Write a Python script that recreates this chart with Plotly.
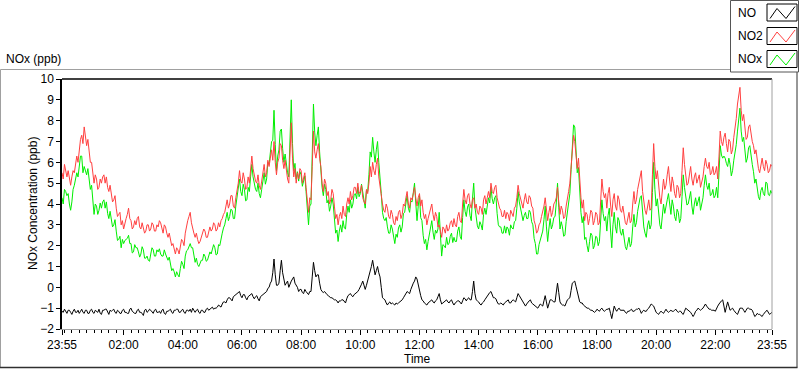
import pandas as pd
import plotly.graph_objects as go

# ------------- data: values read every 5 min (23:55 -> 23:55 next day) -------------
# plus the in-between (2.5-min) values read from the noise envelope
start_time = "2020-01-01 23:55"

no2 = [
    5.5, 5.9, 5.3, 5.2, 5.3, 5.5, 6.3, 6.6, 7.3, 7.7, 6.8, 6.4,
    6.0, 5.0, 5.2, 4.8, 5.0, 5.4, 5.3, 4.6, 4.4, 4.2, 3.8, 3.5,
    3.0, 2.8, 3.3, 3.8, 3.2, 2.9, 3.0, 3.4, 2.8, 2.9, 2.7, 3.0,
    2.8, 3.0, 2.7, 2.9, 3.1, 2.6, 2.9, 2.4, 2.2, 2.1, 1.6, 1.8,
    1.9, 2.2, 2.6, 3.2, 3.6, 2.8, 2.4, 2.3, 2.2, 2.5, 2.7, 2.4,
    2.9, 2.8, 3.0, 2.8, 2.9, 3.3, 3.6, 4.2, 4.0, 4.4, 3.8, 4.6,
    5.6, 5.0, 5.2, 4.8, 5.0, 6.3, 5.4, 5.0, 4.9, 5.1, 5.9, 5.5,
    5.8, 6.6, 7.0, 5.4, 6.2, 6.8, 5.7, 5.6, 5.0, 7.9, 5.3, 5.0,
    5.2, 5.6, 5.3, 4.8, 3.6, 4.2, 7.5, 6.2, 6.9, 5.8, 4.6, 5.0,
    4.6, 4.2, 4.5, 3.3, 3.0, 3.6, 3.9, 3.4, 4.3, 4.6, 4.4, 4.8,
    5.0, 4.6, 4.3, 4.0, 4.5, 5.8, 6.0, 5.4, 6.2, 4.8, 4.0, 3.6,
    3.8, 3.3, 3.5, 3.0, 3.2, 3.7, 3.5, 3.9, 4.6, 3.8, 4.2, 4.8,
    3.9, 4.5, 4.2, 3.3, 3.0, 3.5, 4.0, 3.2, 3.4, 3.0, 2.4, 2.8,
    3.0, 2.8, 3.2, 3.3, 2.9, 3.6, 3.1, 4.7, 4.0, 4.5, 3.8, 4.3,
    4.0, 3.5, 3.8, 4.2, 4.0, 4.6, 5.0, 4.5, 4.9, 4.0, 3.7, 3.4,
    3.3, 3.5, 3.7, 3.4, 3.9, 4.9, 4.3, 3.8, 4.5, 4.0, 4.3, 3.8,
    3.0, 2.7, 3.1, 3.6, 4.3, 3.2, 3.9, 3.6, 4.1, 4.8, 3.5, 3.7,
    3.4, 4.2, 5.0, 6.8, 7.0, 5.7, 5.0, 3.8, 3.2, 3.5, 3.3, 3.6,
    3.2, 3.5, 3.1, 5.2, 4.3, 3.8, 4.8, 3.4, 4.5, 3.7, 4.2, 3.6,
    3.4, 3.0, 3.6, 3.2, 4.6, 4.2, 5.0, 5.6, 4.0, 3.5, 4.2, 3.8,
    6.9, 5.2, 4.8, 4.0, 5.2, 4.9, 5.8, 4.6, 5.0, 4.3, 4.8, 4.5,
    6.7, 5.3, 5.0, 5.8, 4.9, 5.5, 5.2, 4.8, 5.3, 6.2, 5.7, 5.4,
    5.8, 5.5, 5.2, 7.5, 6.8, 7.4, 6.5, 7.0, 6.6, 7.6, 8.8, 9.6,
    8.0, 7.6, 7.2, 7.8, 7.0, 6.4, 6.0, 5.5, 6.2, 5.6, 5.9, 5.6,
    5.8,
]
no2_mid = [
    5.2, 5.6, 5.6, 4.9, 5.6, 5.9, 6.0, 7.1, 6.9, 7.2, 7.1, 6.0,
    5.3, 5.4, 4.7, 5.2, 5.3, 5.0, 4.8, 4.9, 4.1, 4.4, 3.4, 3.6,
    3.2, 3.1, 3.5, 3.3, 2.8, 3.2, 3.3, 2.9, 3.1, 2.6, 3.0, 2.7,
    3.1, 2.7, 3.0, 3.2, 2.8, 3.0, 2.6, 2.6, 2.0, 1.9, 1.9, 1.6,
    2.3, 2.0, 3.0, 3.4, 3.1, 2.6, 2.6, 2.1, 2.4, 2.8, 2.4, 2.7,
    2.7, 3.1, 2.7, 3.1, 3.2, 3.5, 3.9, 3.8, 4.4, 3.9, 4.3, 5.0,
    5.1, 5.5, 4.7, 5.3, 5.7, 5.7, 5.1, 5.4, 4.7, 5.5, 5.3, 6.1,
    6.2, 6.1, 6.0, 6.0, 6.9, 6.1, 6.1, 5.2, 6.3, 6.2, 5.7, 5.5,
    5.7, 5.0, 5.5, 4.2, 4.3, 5.8, 6.5, 6.6, 6.2, 5.0, 5.2, 4.4,
    4.0, 4.7, 3.9, 3.5, 3.4, 3.3, 3.5, 4.0, 4.0, 4.2, 4.8, 4.5,
    4.5, 4.9, 4.1, 4.7, 5.0, 5.3, 5.6, 5.9, 5.3, 4.4, 3.7, 4.0,
    3.4, 3.7, 3.1, 3.4, 3.6, 3.3, 4.0, 4.3, 4.0, 4.3, 4.5, 4.3,
    4.3, 3.9, 3.6, 3.5, 3.3, 3.8, 3.5, 3.6, 2.9, 2.7, 2.9, 2.6,
    2.7, 3.1, 2.9, 3.0, 3.4, 3.2, 4.0, 4.2, 4.4, 4.0, 4.2, 3.8,
    3.6, 3.9, 3.5, 4.4, 4.3, 4.3, 4.6, 4.8, 4.3, 3.8, 3.4, 3.7,
    3.6, 3.2, 3.5, 3.8, 4.3, 4.5, 4.0, 4.2, 4.1, 4.4, 3.9, 3.2,
    2.6, 3.0, 3.4, 3.9, 3.6, 3.6, 3.4, 4.0, 4.3, 4.1, 3.9, 3.3,
    3.9, 4.6, 5.8, 7.3, 6.2, 6.2, 4.3, 4.2, 3.6, 3.0, 3.7, 3.0,
    3.6, 3.0, 4.4, 4.6, 4.5, 4.5, 4.0, 4.2, 3.9, 4.4, 3.7, 3.9,
    3.1, 3.4, 3.1, 4.0, 4.0, 4.7, 5.4, 4.6, 3.7, 4.0, 3.7, 5.4,
    5.8, 5.6, 4.3, 4.7, 4.7, 5.4, 5.1, 5.3, 4.5, 4.9, 4.3, 5.6,
    5.9, 4.9, 5.5, 5.2, 5.3, 5.0, 5.4, 5.1, 5.8, 5.8, 6.0, 5.5,
    5.4, 5.8, 6.3, 7.0, 7.2, 6.9, 7.1, 6.4, 7.2, 8.1, 9.3, 8.5,
    8.3, 7.1, 7.7, 7.3, 6.8, 6.6, 5.7, 6.0, 5.8, 6.1, 5.5, 5.9,
]

nox = [
    4.3, 4.7, 4.4, 4.0, 4.1, 4.9, 5.5, 6.0, 6.3, 5.8, 5.4, 5.0,
    4.9, 3.5, 3.9, 3.7, 3.8, 4.2, 4.1, 3.3, 3.2, 3.0, 2.7, 2.3,
    1.9, 2.1, 2.3, 2.5, 2.1, 1.7, 1.9, 1.7, 1.6, 1.8, 1.4, 1.3,
    1.6, 1.8, 1.5, 1.7, 1.6, 1.5, 1.6, 1.3, 1.0, 0.9, 0.5, 0.6,
    0.9, 1.1, 1.5, 1.8, 2.1, 1.9, 1.2, 1.1, 1.2, 1.3, 1.5, 1.3,
    1.7, 1.8, 1.9, 1.6, 2.0, 2.6, 3.0, 3.6, 3.4, 3.7, 3.3, 4.3,
    5.2, 4.4, 4.7, 4.2, 4.6, 5.9, 5.0, 4.6, 4.5, 4.7, 5.5, 5.2,
    5.9, 7.0, 8.5, 5.6, 6.6, 7.6, 6.0, 5.9, 5.3, 9.0, 5.6, 5.2,
    5.1, 5.4, 5.2, 4.6, 3.0, 4.0, 8.8, 6.8, 7.7, 5.6, 4.4, 4.7,
    4.2, 3.9, 4.0, 2.6, 2.2, 3.0, 3.2, 2.8, 3.9, 4.2, 4.0, 4.5,
    4.8, 4.5, 4.5, 3.8, 4.6, 6.5, 7.2, 6.0, 7.0, 5.4, 3.6, 3.2,
    2.9, 2.6, 2.8, 2.1, 2.4, 3.0, 2.9, 3.6, 4.4, 3.6, 4.1, 5.0,
    3.2, 4.4, 3.2, 2.1, 1.8, 2.5, 3.2, 2.3, 2.6, 3.6, 1.5, 2.0,
    2.4, 2.1, 2.6, 2.4, 2.2, 2.9, 2.3, 4.2, 3.4, 4.0, 3.2, 5.0,
    3.4, 2.8, 3.0, 3.5, 3.5, 4.3, 4.8, 4.0, 4.4, 3.0, 2.9, 2.6,
    2.6, 2.8, 3.0, 2.8, 3.2, 4.6, 3.8, 3.2, 3.6, 3.3, 3.6, 3.0,
    2.1, 1.6, 2.3, 2.7, 3.9, 2.2, 3.3, 3.0, 3.4, 5.0, 2.8, 2.9,
    2.5, 3.6, 4.5, 7.0, 7.7, 5.5, 4.3, 3.1, 2.3, 2.0, 2.2, 2.5,
    2.0, 2.4, 2.2, 4.2, 3.2, 2.7, 3.8, 1.9, 3.6, 2.6, 3.2, 2.5,
    2.3, 1.8, 2.4, 2.1, 3.5, 3.1, 4.0, 4.4, 2.9, 2.4, 3.2, 3.0,
    6.0, 3.9, 3.4, 2.8, 4.0, 3.8, 4.5, 3.5, 3.9, 3.2, 3.6, 3.3,
    5.4, 4.4, 4.0, 4.6, 3.5, 4.3, 4.2, 3.7, 4.3, 5.4, 4.7, 4.4,
    4.7, 4.4, 4.3, 6.8, 6.2, 6.2, 5.8, 5.9, 5.6, 6.4, 7.5, 8.6,
    7.0, 6.4, 6.2, 6.8, 5.9, 5.0, 4.6, 4.2, 4.8, 4.4, 5.0, 4.4,
    4.5,
]
nox_mid = [
    4.0, 4.6, 4.5, 3.7, 4.7, 5.2, 5.3, 6.3, 5.5, 5.6, 5.7, 4.7,
    4.0, 4.0, 3.5, 4.05, 4.1, 3.8, 3.55, 3.65, 2.9, 3.25, 2.25, 2.45,
    2.3, 2.25, 2.35, 2.1, 1.65, 2.05, 1.9, 1.45, 1.95, 1.4, 1.5, 1.25,
    1.9, 1.5, 1.8, 1.85, 1.5, 1.8, 1.4, 1.45, 0.8, 0.75, 0.75, 0.5,
    1.25, 0.9, 1.75, 1.95, 1.9, 1.55, 1.4, 1.0, 1.3, 1.6, 1.25, 1.55,
    1.6, 2.05, 1.55, 2.05, 2.4, 2.85, 3.3, 3.2, 3.75, 3.3, 3.9, 4.65,
    4.6, 4.95, 4.15, 4.8, 5.3, 5.3, 4.7, 5.0, 4.3, 5.1, 4.95, 6.0,
    6.45, 7.05, 6.85, 6.3, 7.5, 6.65, 6.4, 5.5, 7.0, 6.9, 5.95, 5.55,
    5.55, 4.85, 5.35, 3.8, 3.9, 6.35, 7.45, 7.3, 6.5, 4.8, 4.95, 4.05,
    3.65, 4.3, 3.3, 2.75, 2.7, 2.65, 2.85, 3.5, 3.6, 3.8, 4.45, 4.25,
    4.35, 4.95, 4.1, 4.65, 5.4, 6.25, 6.5, 6.6, 6.0, 4.5, 3.3, 3.35,
    2.6, 3.0, 2.3, 2.55, 2.85, 2.65, 3.55, 4.05, 3.8, 4.15, 4.55, 4.05,
    3.9, 3.35, 2.5, 2.3, 2.2, 2.9, 2.65, 2.75, 2.8, 2.55, 2.05, 1.9,
    2.05, 2.45, 2.15, 2.2, 2.7, 2.45, 3.35, 3.65, 3.85, 3.45, 4.25, 3.85,
    2.95, 3.15, 2.75, 3.8, 3.9, 4.05, 4.25, 4.3, 3.55, 2.9, 2.6, 2.95,
    2.9, 2.5, 2.85, 3.15, 3.8, 4.1, 3.45, 3.45, 3.3, 3.7, 3.15, 2.35,
    1.6, 2.05, 2.55, 3.25, 2.9, 2.8, 2.8, 3.35, 4.05, 3.85, 3.15, 2.45,
    3.15, 4.05, 5.65, 7.8, 6.45, 5.75, 3.6, 3.4, 2.4, 1.7, 2.6, 1.85,
    2.45, 2.0, 3.45, 3.55, 3.4, 3.45, 2.75, 3.0, 2.9, 3.35, 2.65, 2.8,
    1.95, 2.2, 1.95, 2.9, 2.9, 3.65, 4.3, 3.45, 2.6, 2.95, 2.8, 4.55,
    4.7, 4.25, 3.0, 3.5, 3.55, 4.2, 3.9, 4.2, 3.4, 3.75, 3.1, 4.35,
    4.8, 3.95, 4.4, 3.9, 4.0, 3.9, 4.35, 4.05, 4.9, 4.9, 5.0, 4.45,
    4.3, 4.8, 5.5, 6.35, 6.3, 5.95, 6.2, 5.35, 6.1, 6.85, 8.15, 7.5,
    7.2, 6.0, 6.7, 6.25, 5.55, 5.2, 4.35, 4.65, 4.5, 5.05, 4.45, 4.65,
]

no = [
    -1.15, -1.05, -1.25, -1.1, -1.3, -1.05, -1.2, -1.25, -1.05, -1.25, -1.1, -1.25,
    -1.05, -1.25, -1.15, -1.05, -1.3, -1.1, -1.05, -1.3, -1.15, -1.05, -1.25, -1.15,
    -1.25, -1.05, -1.2, -1.25, -1.0, -1.2, -1.25, -1.05, -1.2, -1.35, -1.05, -1.15,
    -1.1, -1.25, -1.05, -1.2, -1.25, -1.05, -1.3, -1.15, -1.05, -1.25, -1.1, -1.05,
    -1.2, -1.05, -1.25, -1.1, -1.05, -1.0, -1.2, -1.05, -1.25, -1.1, -1.2, -1.0,
    -1.05, -0.95, -1.0, -0.95, -0.9, -0.8, -0.7, -0.6, -0.5, -0.65, -0.4, -0.3,
    -0.2, -0.5, -0.35, -0.6, -0.4, -0.3, -0.55, -0.4, -0.65, -0.4, -0.3, -0.2,
    0.0, 0.3, 1.36, 0.1, 0.2, 1.3, 0.4, 0.2, 0.0, 0.3, 0.5, 0.1,
    -0.2, -0.1, -0.3, -0.2, -0.35, -0.2, 1.2, 0.5, 0.6, -0.1, -0.25, -0.3,
    -0.4, -0.5, -0.55, -0.6, -0.75, -0.65, -0.6, -0.75, -0.4, -0.3, -0.45, -0.3,
    -0.2, 0.0, 0.3, -0.1, 0.3, 0.8, 1.3, 0.6, 1.0, 0.5, -0.5, -0.6,
    -0.85, -0.7, -0.75, -0.85, -0.8, -0.7, -0.6, -0.4, -0.2, -0.3, 0.1, 0.3,
    0.4, -0.1, -0.6, -0.75, -0.85, -0.7, -0.6, -0.75, -0.6, -0.3, -0.8, -0.7,
    -0.6, -0.75, -0.6, -0.85, -0.7, -0.65, -0.8, -0.5, -0.65, -0.5, -0.6, 0.3,
    -0.6, -0.7, -0.85, -0.7, -0.5, -0.3, -0.2, -0.5, -0.55, -0.8, -0.75, -0.85,
    -0.7, -0.6, -0.75, -0.6, -0.7, -0.3, -0.5, -0.65, -0.9, -0.7, -0.6, -0.8,
    -0.9, -1.0, -0.8, -0.9, -0.4, -1.0, -0.6, -0.65, -0.7, 0.2, -0.7, -0.85,
    -0.9, -0.6, -0.5, 0.2, 0.3, -0.2, -0.7, -0.75, -0.9, -1.0, -1.05, -1.1,
    -1.2, -1.05, -1.15, -1.0, -1.15, -1.05, -1.0, -1.5, -0.9, -1.15, -1.0, -1.1,
    -1.1, -1.25, -1.15, -1.05, -1.15, -1.05, -1.0, -1.25, -1.1, -1.15, -1.0, -0.8,
    -0.9, -1.2, -1.3, -1.15, -1.25, -1.05, -1.2, -1.1, -1.15, -1.05, -1.2, -1.15,
    -1.3, -1.0, -1.1, -1.2, -1.4, -1.15, -1.0, -1.1, -1.0, -0.8, -1.0, -1.05,
    -1.1, -1.15, -0.9, -0.7, -0.6, -1.2, -0.7, -1.1, -1.0, -1.2, -1.3, -1.0,
    -1.0, -1.2, -1.0, -1.05, -1.1, -1.4, -1.25, -1.3, -1.4, -1.2, -1.1, -1.3,
    -1.2,
]
no_mid = [
    -1.2, -1.15, -1.1, -1.2, -1.15, -1.2, -1.1, -1.15, -1.2, -1.1, -1.25, -1.1,
    -1.2, -1.1, -1.2, -1.25, -1.1, -1.05, -1.2, -1.1, -1.1, -1.2, -1.1, -1.25,
    -1.1, -1.2, -1.25, -1.05, -1.15, -1.25, -1.1, -1.2, -1.25, -1.1, -1.2, -1.05,
    -1.2, -1.1, -1.2, -1.15, -1.1, -1.25, -1.15, -1.1, -1.2, -1.1, -1.05, -1.2,
    -1.1, -1.2, -1.1, -1.15, -1.2, -1.1, -1.1, -1.2, -1.1, -1.2, -1.05, -1.1,
    -1.0, -1.05, -1.0, -0.85, -0.95, -0.7, -0.75, -0.5, -0.6, -0.45, -0.35, -0.25,
    -0.4, -0.35, -0.5, -0.45, -0.35, -0.45, -0.45, -0.55, -0.45, -0.35, -0.25, -0.05,
    0.2, 0.7, 0.6, 0.1, 0.8, 0.7, 0.1, 0.3, 0.2, 0.4, 0.2, 0.0,
    -0.1, -0.25, -0.1, -0.3, -0.2, 0.5, 0.8, 0.6, 0.2, -0.2, -0.2, -0.35,
    -0.45, -0.5, -0.6, -0.65, -0.65, -0.6, -0.7, -0.55, -0.35, -0.4, -0.35, -0.25,
    -0.1, 0.15, 0.1, 0.1, 0.6, 1.0, 0.9, 0.8, 0.7, 0.0, -0.55, -0.75,
    -0.75, -0.8, -0.8, -0.75, -0.75, -0.65, -0.5, -0.3, -0.25, -0.1, 0.2, 0.5,
    0.1, -0.4, -0.65, -0.8, -0.75, -0.65, -0.7, -0.65, -0.45, -0.6, -0.75, -0.65,
    -0.7, -0.65, -0.75, -0.75, -0.65, -0.75, -0.65, -0.55, -0.55, -0.6, -0.2, -0.3,
    -0.65, -0.8, -0.75, -0.6, -0.4, -0.25, -0.35, -0.5, -0.7, -0.8, -0.8, -0.75,
    -0.65, -0.75, -0.65, -0.65, -0.5, -0.4, -0.6, -0.8, -0.8, -0.65, -0.75, -0.85,
    -0.95, -0.9, -0.85, -0.65, -0.7, -0.8, -0.6, -0.7, -0.25, -0.25, -0.8, -0.85,
    -0.75, -0.55, -0.15, 0.25, 0.05, -0.45, -0.75, -0.85, -0.95, -1.0, -1.1, -1.15,
    -1.15, -1.1, -1.05, -1.1, -1.1, -1.05, -1.25, -1.2, -1.05, -1.05, -1.1, -1.1,
    -1.2, -1.15, -1.1, -1.15, -1.1, -1.05, -1.1, -1.15, -1.15, -1.05, -0.9, -0.85,
    -1.05, -1.25, -1.2, -1.2, -1.15, -1.15, -1.15, -1.15, -1.1, -1.15, -1.15, -1.25,
    -1.15, -1.05, -1.15, -1.3, -1.3, -1.1, -1.05, -1.05, -0.9, -0.9, -1.05, -1.1,
    -1.1, -1.0, -0.8, -0.65, -0.9, -0.95, -0.9, -1.05, -1.1, -1.25, -1.15, -1.0,
    -1.1, -1.1, -1.0, -1.05, -1.25, -1.35, -1.3, -1.35, -1.3, -1.15, -1.2, -1.25,
]

tick_times = [
    "2020-01-01 23:55", "2020-01-02 02:00", "2020-01-02 04:00", "2020-01-02 06:00",
    "2020-01-02 08:00", "2020-01-02 10:00", "2020-01-02 12:00", "2020-01-02 14:00",
    "2020-01-02 16:00", "2020-01-02 18:00", "2020-01-02 20:00", "2020-01-02 22:00",
    "2020-01-02 23:55",
]
tick_labels = ["23:55", "02:00", "04:00", "06:00", "08:00", "10:00", "12:00",
               "14:00", "16:00", "18:00", "20:00", "22:00", "23:55"]

series_names = ["NO", "NO2", "NOx"]
series_colors = ["#000000", "#ff4040", "#00ee00"]


def interleave(main, mid):
    out = []
    for i, v in enumerate(main):
        out.append(v)
        if i < len(mid):
            out.append(mid[i])
    return out


no2_all = interleave(no2, no2_mid)
nox_all = interleave(nox, nox_mid)
no_all = interleave(no, no_mid)
times = pd.date_range(start_time, periods=len(no2_all), freq="150s")

# ---------------- layout helpers ----------------
W, H = 800, 369
L, R, T, B = 62, 28, 79, 40
PW, PH = W - L - R, H - T - B


def px(x):
    return (x - L) / PW


def py(y):
    return (H - B - y) / PH


FONT = "Liberation Sans, Arial, sans-serif"

fig = go.Figure()
fig.add_trace(go.Scatter(x=times, y=no_all, mode="lines", name=series_names[0],
                         line=dict(color=series_colors[0], width=1), showlegend=False))
fig.add_trace(go.Scatter(x=times, y=nox_all, mode="lines", name=series_names[2],
                         line=dict(color=series_colors[2], width=1), showlegend=False))
fig.add_trace(go.Scatter(x=times, y=no2_all, mode="lines", name=series_names[1],
                         line=dict(color=series_colors[1], width=1), showlegend=False))

shapes = []
shapes.append(dict(type="line", xref="paper", yref="paper", x0=0, x1=1, y0=1, y1=1,
                   line=dict(color="black", width=1.5)))
shapes.append(dict(type="line", xref="paper", yref="paper", x0=1, x1=1, y0=0, y1=1,
                   line=dict(color="#a0a0a0", width=1)))
shapes.append(dict(type="line", xref="paper", yref="paper", x0=px(0.5), x1=px(0.5),
                   y0=py(69.5), y1=py(367), line=dict(color="#a0a0a0", width=1)))
shapes.append(dict(type="line", xref="paper", yref="paper", x0=px(0.5), x1=px(730),
                   y0=py(69.5), y1=py(69.5), line=dict(color="#a0a0a0", width=1)))
shapes.append(dict(type="line", xref="paper", yref="paper", x0=px(797), x1=px(797),
                   y0=py(72), y1=py(367.5), line=dict(color="#303030", width=1)))
shapes.append(dict(type="line", xref="paper", yref="paper", x0=px(0), x1=px(797.5),
                   y0=py(367.5), y1=py(367.5), line=dict(color="#303030", width=1.5)))
shapes.append(dict(type="rect", xref="paper", yref="paper", x0=px(730.5), x1=px(798.5),
                   y0=py(0.5), y1=py(72), line=dict(color="#555555", width=1),
                   fillcolor="white"))

annotations = []
row_centers = [12.5, 36, 59]
for name, color, yc in zip(series_names, series_colors, row_centers):
    annotations.append(dict(text=name, xref="paper", yref="paper", x=px(736), y=py(yc),
                            xanchor="left", yanchor="middle", showarrow=False,
                            font=dict(family=FONT, size=12, color="black")))
    shapes.append(dict(type="rect", xref="paper", yref="paper", x0=px(767), x1=px(797),
                       y0=py(yc - 8.5), y1=py(yc + 8.5),
                       line=dict(color="black", width=1), fillcolor="white"))
    pts = [(770, yc + 6), (777, yc - 4), (786, yc + 6), (795, yc - 6)]
    path = "M " + " L ".join(f"{px(a)},{py(b)}" for a, b in pts)
    shapes.append(dict(type="path", xref="paper", yref="paper", path=path,
                       line=dict(color=color, width=1)))

annotations.append(dict(text="NOx (ppb)", xref="paper", yref="paper", x=px(4), y=py(59),
                        xanchor="left", yanchor="middle", showarrow=False,
                        font=dict(family=FONT, size=12, color="black")))
annotations.append(dict(text="NOx Concentration (ppb)", xref="paper", yref="paper",
                        x=px(33), y=py(204), textangle=-90, xanchor="center",
                        yanchor="middle", showarrow=False,
                        font=dict(family=FONT, size=12, color="black")))
annotations.append(dict(text="Time", xref="paper", yref="paper", x=px(417), y=py(359),
                        xanchor="center", yanchor="middle", showarrow=False,
                        font=dict(family=FONT, size=12, color="black")))

fig.update_layout(
    width=W, height=H,
    margin=dict(l=L, r=R, t=T, b=B, pad=0),
    paper_bgcolor="white", plot_bgcolor="white",
    font=dict(family=FONT, size=12, color="black"),
    shapes=shapes, annotations=annotations,
    showlegend=False,
    xaxis=dict(
        type="date", range=[times[0], times[-1]],
        showgrid=False, zeroline=False,
        showline=True, linecolor="#a0a0a0", linewidth=1,
        ticks="outside", ticklen=5, tickcolor="black", tickwidth=1,
        tickmode="array", tickvals=tick_times, ticktext=tick_labels,
        tickfont=dict(family=FONT, size=12, color="black"),
        minor=dict(ticks="outside", ticklen=3, tickcolor="black", tickwidth=1,
                   dtick=15 * 60 * 1000, tick0="2020-01-02 00:00", showgrid=False),
    ),
    yaxis=dict(
        range=[-2, 10], tickmode="linear", tick0=0, dtick=1,
        showgrid=False, zeroline=False,
        showline=True, linecolor="black", linewidth=1.5,
        ticks="outside", ticklen=4, tickcolor="black", tickwidth=1,
        tickfont=dict(family=FONT, size=12, color="black"),
    ),
)

fig.write_html(
    "out.html",
    config={"displayModeBar": False},
    post_script="document.body.style.margin='0';document.body.style.overflow='hidden';",
)
